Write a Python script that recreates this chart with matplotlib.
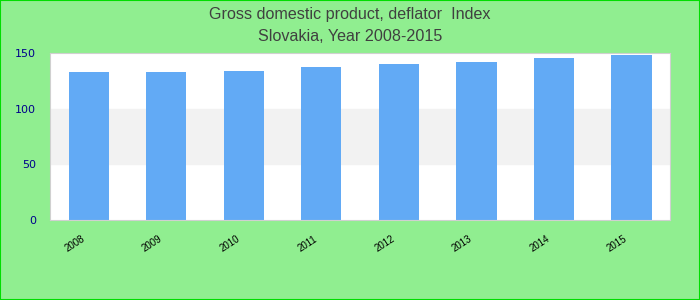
import matplotlib.pyplot as plt
from matplotlib.patches import Rectangle
from matplotlib.transforms import ScaledTranslation

years = ["2008", "2009", "2010", "2011", "2012", "2013", "2014", "2015"]
values = [133.4, 132.6, 134.3, 137.2, 139.8, 142.4, 145.9, 148.5]

fig = plt.figure(figsize=(7, 3), dpi=100, facecolor="#90ee90")
ax = fig.add_axes([0.0714, 0.267, 0.886, 0.556])
ax.set_facecolor("white")

# banda gris entre 50 y 100
ax.axhspan(50, 100, color="#f2f2f2", zorder=0)

x = range(len(years))
ax.bar(x, values, width=0.52, color="#62aaf5", zorder=2)

ax.set_xlim(-0.5, len(years) - 0.5)
ax.set_ylim(0, 150)
ax.set_yticks([0, 50, 100, 150])
ax.set_xticks(list(x))
ax.set_xticklabels(years, rotation=33, ha="right", fontsize=7, color="black",
                   rotation_mode="anchor", family="Liberation Sans")
ax.tick_params(axis="y", colors="#00008b", labelsize=8, length=0, pad=10)
ax.tick_params(axis="x", length=0, pad=10)
off = ScaledTranslation(-8 / 100, 0, fig.dpi_scale_trans)
for lbl in ax.get_xticklabels():
    lbl.set_transform(lbl.get_transform() + off)
for s in ax.spines.values():
    s.set_color("#d0d0d0")

fig.text(0.5, 0.953, "Gross domestic product, deflator  Index", ha="center",
         va="center", fontsize=11.6, color="#404040", family="Liberation Sans")
fig.text(0.5, 0.877, "Slovakia, Year 2008-2015", ha="center", va="center",
         fontsize=11.6, color="#404040", family="Liberation Sans")

fig.patches.append(Rectangle((0, 0), 1, 1, transform=fig.transFigure,
                             fill=False, edgecolor="#00dd00", linewidth=1.5))

fig.savefig("out.png", facecolor=fig.get_facecolor())
